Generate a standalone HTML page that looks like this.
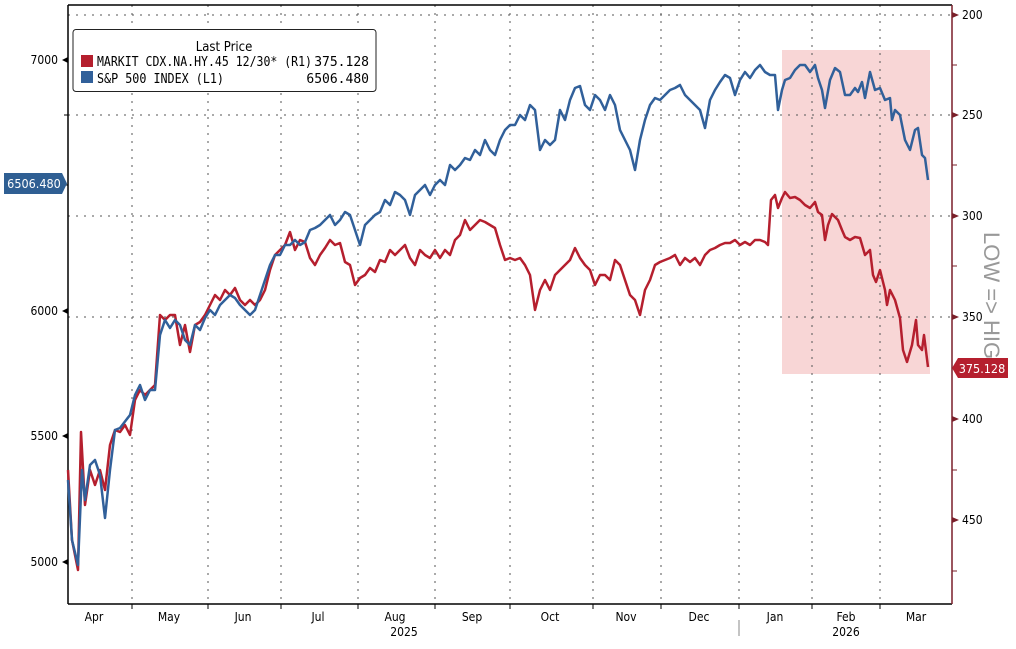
<!DOCTYPE html><html><head><style>body{margin:0;background:#fff}svg{font-family:"DejaVu Sans Condensed","Liberation Sans",sans-serif}</style></head><body>
<svg width="1016" height="644" viewBox="0 0 1016 644" xmlns="http://www.w3.org/2000/svg">
<rect x="0" y="0" width="1016" height="644" fill="#fff"/>
<rect x="782" y="50" width="148" height="324" fill="#f7cfcf" opacity="0.85"/>
<g stroke="#555" stroke-width="1" stroke-dasharray="2,6">
<line x1="68" y1="15" x2="952" y2="15"/><line x1="68" y1="115" x2="952" y2="115"/><line x1="68" y1="216" x2="952" y2="216"/><line x1="68" y1="317" x2="952" y2="317"/>
<line x1="132" y1="5" x2="132" y2="604"/><line x1="208" y1="5" x2="208" y2="604"/><line x1="281" y1="5" x2="281" y2="604"/><line x1="358" y1="5" x2="358" y2="604"/><line x1="435" y1="5" x2="435" y2="604"/><line x1="510" y1="5" x2="510" y2="604"/><line x1="593" y1="5" x2="593" y2="604"/><line x1="661" y1="5" x2="661" y2="604"/><line x1="739" y1="5" x2="739" y2="604"/><line x1="812" y1="5" x2="812" y2="604"/><line x1="880" y1="5" x2="880" y2="604"/>
</g>
<line x1="68" y1="5" x2="952" y2="5" stroke="#000" stroke-width="1.5"/>
<line x1="68" y1="5" x2="68" y2="604" stroke="#000" stroke-width="1.5"/>
<line x1="68" y1="604" x2="952" y2="604" stroke="#000" stroke-width="1.5"/>
<line x1="952" y1="5" x2="952" y2="604" stroke="#7a1f2a" stroke-width="1.5"/>
<g font-size="12" fill="#000" text-anchor="end">
<text x="58" y="64">7000</text><text x="58" y="315">6000</text><text x="58" y="440">5500</text><text x="58" y="566">5000</text>
</g>
<g fill="#000"><path d="M62,60 l6,-3 v6z"/><path d="M62,311 l6,-3 v6z"/><path d="M62,436 l6,-3 v6z"/><path d="M62,562 l6,-3 v6z"/></g>
<g stroke="#000"><line x1="64" y1="115" x2="68" y2="115"/><line x1="64" y1="185" x2="68" y2="185"/><line x1="64" y1="562" x2="68" y2="562"/></g>
<g font-size="12" fill="#000">
<text x="962" y="19">200</text><text x="962" y="119">250</text><text x="962" y="220">300</text><text x="962" y="321">350</text><text x="962" y="423">400</text><text x="962" y="524">450</text>
</g>
<g fill="#7a1f2a"><path d="M952,12 l7,3 l-7,3z"/><path d="M952,112 l7,3 l-7,3z"/><path d="M952,213 l7,3 l-7,3z"/><path d="M952,314 l7,3 l-7,3z"/><path d="M952,416 l7,3 l-7,3z"/><path d="M952,517 l7,3 l-7,3z"/></g>
<g stroke="#7a1f2a"><line x1="952" y1="65" x2="957" y2="65"/><line x1="952" y1="165" x2="957" y2="165"/><line x1="952" y1="266" x2="957" y2="266"/><line x1="952" y1="368" x2="957" y2="368"/><line x1="952" y1="470" x2="957" y2="470"/><line x1="952" y1="571" x2="957" y2="571"/></g>
<text transform="translate(984,232) rotate(90)" font-size="22" fill="#999" font-family="Liberation Sans,sans-serif">LOW =&gt; HIGH</text>
<g stroke="#000"><line x1="132" y1="604" x2="132" y2="609"/><line x1="208" y1="604" x2="208" y2="609"/><line x1="281" y1="604" x2="281" y2="609"/><line x1="358" y1="604" x2="358" y2="609"/><line x1="435" y1="604" x2="435" y2="609"/><line x1="510" y1="604" x2="510" y2="609"/><line x1="593" y1="604" x2="593" y2="609"/><line x1="661" y1="604" x2="661" y2="609"/><line x1="739" y1="604" x2="739" y2="609"/><line x1="812" y1="604" x2="812" y2="609"/><line x1="880" y1="604" x2="880" y2="609"/><line x1="739" y1="620" x2="739" y2="636" stroke="#888"/></g>
<g font-size="12" fill="#000" text-anchor="middle">
<text x="94" y="621">Apr</text><text x="169" y="621">May</text><text x="243" y="621">Jun</text><text x="318" y="621">Jul</text><text x="395" y="621">Aug</text><text x="472" y="621">Sep</text><text x="550" y="621">Oct</text><text x="626" y="621">Nov</text><text x="699" y="621">Dec</text><text x="775" y="621">Jan</text><text x="846" y="621">Feb</text><text x="916" y="621">Mar</text>
<text x="404" y="636">2025</text><text x="846" y="636">2026</text>
</g>
<polyline fill="none" stroke="#b51f2e" stroke-width="2.5" stroke-linejoin="round" points="68,470 72,540 78,570 81,432 85,505 90,470 95,485 100,470 105,490 110,445 115,430 120,432 125,425 130,435 135,400 140,390 145,395 150,390 155,385 160,315 165,320 170,315 175,315 180,345 185,325 190,352 195,325 200,322 205,315 210,305 215,295 220,300 225,290 230,295 235,288 240,300 245,305 250,300 255,305 260,300 265,290 270,270 275,255 280,250 285,245 290,232 295,250 300,240 305,242 310,258 315,265 320,255 325,248 330,240 335,245 340,243 345,262 350,265 355,285 360,278 365,275 370,268 375,272 380,260 385,262 390,250 395,255 400,250 405,245 410,258 415,265 420,250 425,255 430,258 435,250 440,258 445,250 450,255 455,240 460,235 465,220 470,230 475,225 480,220 485,222 490,225 495,228 500,245 505,260 510,258 515,260 520,258 525,265 530,275 535,310 540,290 545,280 550,290 555,275 560,270 565,265 570,260 575,248 580,258 585,265 590,270 595,285 600,275 605,275 610,280 615,260 620,265 625,280 630,295 635,300 640,315 645,290 650,280 655,265 660,262 665,260 670,258 675,255 680,265 685,258 690,262 695,258 700,265 705,255 710,250 715,248 720,245 725,243 730,243 735,240 740,245 745,242 750,245 755,240 760,240 765,242 768,245 771,200 775,195 778,208 782,198 785,192 790,198 795,197 800,200 805,205 810,208 815,202 818,212 822,215 825,240 828,225 832,214 838,220 842,230 845,237 850,240 855,237 860,238 865,255 870,250 873,275 876,282 880,270 885,290 887,305 890,290 895,300 900,318 903,350 907,362 912,345 916,320 918,345 922,350 924,335 928,367"/>
<polyline fill="none" stroke="#31609a" stroke-width="2.5" stroke-linejoin="round" points="68,480 72,540 78,565 82,470 85,500 90,465 95,460 100,475 105,518 110,470 115,430 120,428 130,415 135,395 140,385 145,400 150,390 155,390 160,335 165,320 170,328 175,320 180,325 185,340 190,345 195,325 200,330 205,318 210,310 215,315 220,305 225,300 230,295 235,298 240,305 245,310 250,315 255,310 260,295 265,280 270,265 275,255 280,255 285,245 290,245 295,240 300,245 305,242 310,230 315,228 320,225 325,220 330,215 335,225 340,220 345,212 350,215 355,230 360,245 365,225 370,220 375,215 380,212 385,200 390,205 395,192 400,195 405,200 410,215 415,195 420,190 425,185 430,195 435,185 440,180 445,185 450,165 455,170 460,165 465,158 470,160 475,150 480,155 485,140 490,150 495,155 500,140 505,130 510,125 515,125 520,115 525,120 530,105 535,110 540,150 545,140 550,145 555,140 560,110 565,120 570,100 575,88 580,86 585,105 590,110 595,95 600,100 605,110 610,95 615,105 620,130 625,140 630,150 635,170 640,140 645,120 650,105 655,98 660,100 665,95 670,90 675,88 680,85 685,95 690,100 695,105 700,110 705,128 710,100 715,90 720,82 725,75 730,78 735,95 740,80 745,72 750,78 755,70 760,65 765,72 770,75 775,75 778,110 782,90 785,80 790,78 795,70 800,65 805,65 810,72 815,65 818,78 822,90 825,108 830,80 835,68 840,72 845,95 850,95 855,88 858,92 862,82 865,98 870,72 875,90 880,88 885,100 890,98 892,120 895,110 900,115 905,140 910,150 915,130 918,128 922,155 925,158 928,180"/>
<rect x="73" y="29.5" width="303" height="62" rx="3" fill="#fff" stroke="#222" stroke-width="1"/>
<text x="224" y="51" font-size="13" text-anchor="middle" fill="#000">Last Price</text>
<rect x="81" y="55" width="12" height="12" fill="#b51f2e"/><rect x="81" y="71" width="12" height="12" fill="#31609a"/>
<g font-size="13" fill="#000" font-family="'DejaVu Sans Mono','Liberation Mono',monospace">
<text x="97" y="66" textLength="215" lengthAdjust="spacingAndGlyphs">MARKIT CDX.NA.HY.45 12/30* (R1)</text><text x="369" y="66" text-anchor="end">375.128</text>
<text x="97" y="83" textLength="127" lengthAdjust="spacingAndGlyphs">S&amp;P 500 INDEX (L1)</text><text x="369" y="83" text-anchor="end">6506.480</text>
</g>
<path d="M4,173 H62 L67,183.5 L62,194 H4z" fill="#2f5f93"/>
<text x="34" y="188" font-size="12.5" fill="#fff" text-anchor="middle">6506.480</text>
<path d="M958,358 H1008 V378 H958 L952,368z" fill="#b51f2e"/>
<text x="982" y="373" font-size="12.5" fill="#fff" text-anchor="middle">375.128</text>
</svg></body></html>
